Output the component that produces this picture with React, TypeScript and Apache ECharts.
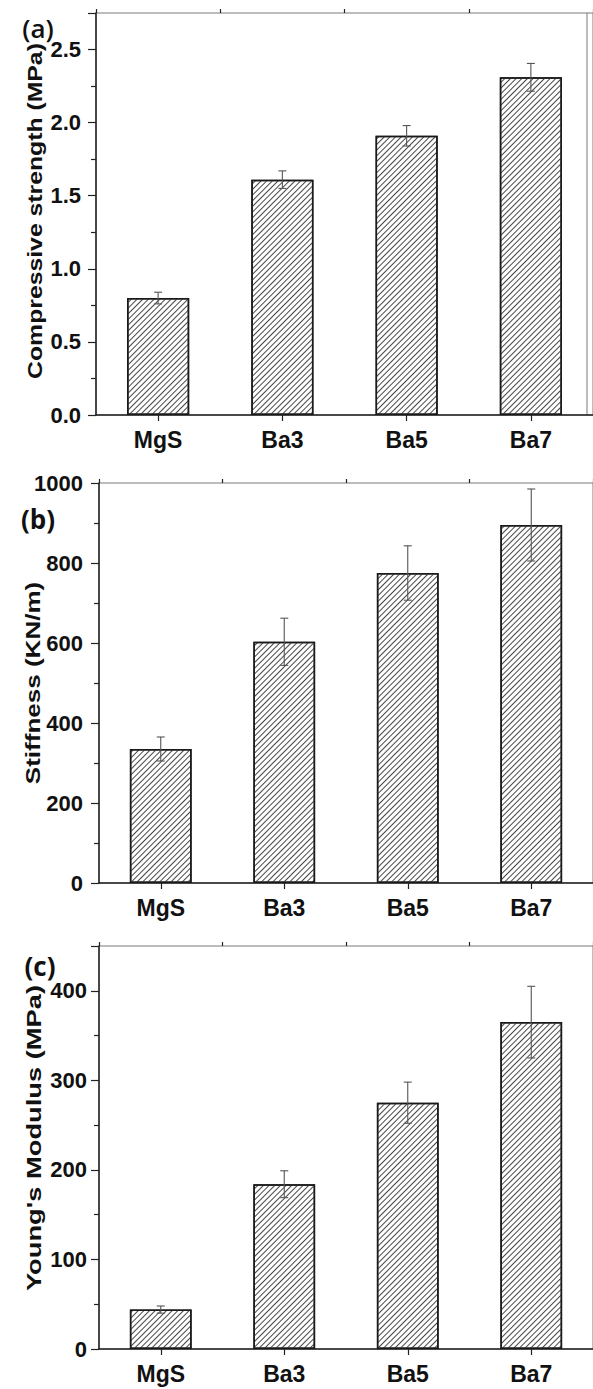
import React, { useEffect, useRef } from "react";
import * as echarts from "echarts";

const categories = ["MgS", "Ba3", "Ba5", "Ba7"];

const strengthValues = [0.8, 1.61, 1.91, 2.31];
const strengthErrors = [0.04, 0.06, 0.07, 0.095];

const stiffnessValues = [335, 603, 775, 895];
const stiffnessErrors = [30, 59, 68, 90];

const modulusValues = [44, 184, 275, 365];
const modulusErrors = [4, 15, 23, 40];

const yTitles = ["Compressive strength (MPa)", "Stiffness (KN/m)", "Young's Modulus (MPa)"];
const panelTags = ["(a)", "(b)", "(c)"];

const W = 593;
const H = 1389;

const FONT = "'Liberation Sans', Arial, sans-serif";

// layout of each panel (pixels)
const layouts = [
  { left: 96, top: 13, width: 500, height: 402, max: 2.75, interval: 0.5, labelMargin: 15, showMax: false, titleX: 35, titleY: 211, titleScale: 1.18, tagX: 38, tagY: 28, tagWeight: 600 },
  { left: 99, top: 483, width: 496, height: 400, max: 1000, interval: 200, labelMargin: 16, showMax: true, titleX: 33, titleY: 683, titleScale: 1.24, tagX: 38, tagY: 519, tagWeight: 700 },
  { left: 99, top: 946, width: 500, height: 403, max: 450, interval: 100, labelMargin: 12, showMax: false, titleX: 34, titleY: 1138, titleScale: 1.3, tagX: 40, tagY: 966, tagWeight: 700 },
];

const panelValues = [strengthValues, stiffnessValues, modulusValues];
const panelErrors = [strengthErrors, stiffnessErrors, modulusErrors];

export default function App() {
  const ref = useRef<HTMLDivElement>(null);

  useEffect(() => {
    if (!ref.current) return;
    const chart = echarts.init(ref.current, null, { renderer: "svg", width: W, height: H });

    const grids: any[] = [];
    const xAxes: any[] = [];
    const yAxes: any[] = [];
    const series: any[] = [];
    const graphics: any[] = [];

    layouts.forEach((L, i) => {
      grids.push({
        left: L.left,
        top: L.top,
        width: L.width,
        height: L.height,
        show: true,
        borderColor: "#7a7a7a",
        borderWidth: 1,
        backgroundColor: "transparent",
      });
      // labelled axis with ticks at category centres
      xAxes.push({
        type: "category",
        gridIndex: i,
        data: categories,
        boundaryGap: true,
        axisLine: { show: true, lineStyle: { color: "#222", width: 1.5 } },
        axisTick: { show: true, alignWithLabel: true, length: 6, lineStyle: { color: "#222", width: 1.2 } },
        axisLabel: {
          show: true,
          interval: 0,
          margin: 13,
          color: "#111",
          fontFamily: FONT,
          fontWeight: "bold",
          fontSize: 23,
        },
      });
      // minor ticks between categories
      xAxes.push({
        type: "category",
        gridIndex: i,
        data: categories,
        boundaryGap: true,
        axisLine: { show: false },
        axisTick: { show: true, alignWithLabel: false, length: 4, lineStyle: { color: "#222", width: 1.2 } },
        axisLabel: { show: false },
      });
      yAxes.push({
        type: "value",
        gridIndex: i,
        min: 0,
        max: L.max,
        interval: L.interval,
        splitLine: { show: false },
        axisLine: { show: true, lineStyle: { color: "#222", width: 1.5 } },
        axisTick: { show: true, length: 8, lineStyle: { color: "#222", width: 1.2 } },
        minorTick: { show: true, splitNumber: 2, length: 5, lineStyle: { color: "#222", width: 1.2 } },
        axisLabel: {
          showMaxLabel: L.showMax,
          margin: L.labelMargin,
          color: "#111",
          fontFamily: FONT,
          fontWeight: "bold",
          fontSize: 22,
          formatter: (v: number) => (i === 0 ? v.toFixed(1) : String(v)),
        },
      });

      series.push({
        type: "bar",
        xAxisIndex: i * 2,
        yAxisIndex: i,
        barWidth: "50%",
        data: panelValues[i],
        itemStyle: {
          color: "#ffffff",
          borderColor: "#1a1a1a",
          borderWidth: 1.5,
          decal: {
            symbol: "rect",
            symbolSize: 1,
            color: "#474747",
            backgroundColor: "#ffffff",
            dashArrayX: [1, 0],
            dashArrayY: [1, 2.4],
            rotation: -Math.PI / 4,
          },
        },
        silent: true,
      });

      series.push({
        type: "custom",
        xAxisIndex: i * 2,
        yAxisIndex: i,
        data: panelValues[i].map((v, k) => [k, v, panelErrors[i][k]]),
        encode: { x: 0, y: 1 },
        z: 5,
        renderItem: (params: any, api: any) => {
          const x = api.value(0);
          const v = api.value(1);
          const e = api.value(2);
          const top = api.coord([x, v + e]);
          const bot = api.coord([x, v - e]);
          const hw = 4;
          const st = { stroke: "#555", lineWidth: 1.1 };
          return {
            type: "group",
            children: [
              { type: "line", shape: { x1: top[0], y1: top[1], x2: bot[0], y2: bot[1] }, style: st },
              { type: "line", shape: { x1: top[0] - hw, y1: top[1], x2: top[0] + hw, y2: top[1] }, style: st },
              { type: "line", shape: { x1: bot[0] - hw, y1: bot[1], x2: bot[0] + hw, y2: bot[1] }, style: st },
            ],
          };
        },
      });

      graphics.push({
        type: "text",
        x: L.titleX,
        y: L.titleY,
        rotation: Math.PI / 2,
        scaleX: L.titleScale,
        style: {
          text: yTitles[i],
          align: "center",
          verticalAlign: "middle",
          fill: "#111",
          font: `bold 21px ${FONT}`,
        },
        z: 10,
      });
      graphics.push({
        type: "text",
        x: L.tagX,
        y: L.tagY,
        style: {
          text: panelTags[i],
          align: "center",
          verticalAlign: "middle",
          fill: "#111",
          font: `${L.tagWeight} 26px 'Open Sans', sans-serif`,
        },
        z: 10,
      });
    });

    // right frame edge of panel (a)
    graphics.push({
      type: "line",
      shape: { x1: 587, y1: 13, x2: 587, y2: 415 },
      style: { stroke: "#7a7a7a", lineWidth: 1 },
    });

    chart.setOption({
      animation: false,
      backgroundColor: "#ffffff",
      grid: grids,
      xAxis: xAxes,
      yAxis: yAxes,
      series,
      graphic: graphics,
    });

    return () => chart.dispose();
  }, []);

  return (
    <div
      ref={ref}
      style={{ position: "absolute", left: 0, top: 0, width: W, height: H, overflow: "hidden" }}
    />
  );
}
